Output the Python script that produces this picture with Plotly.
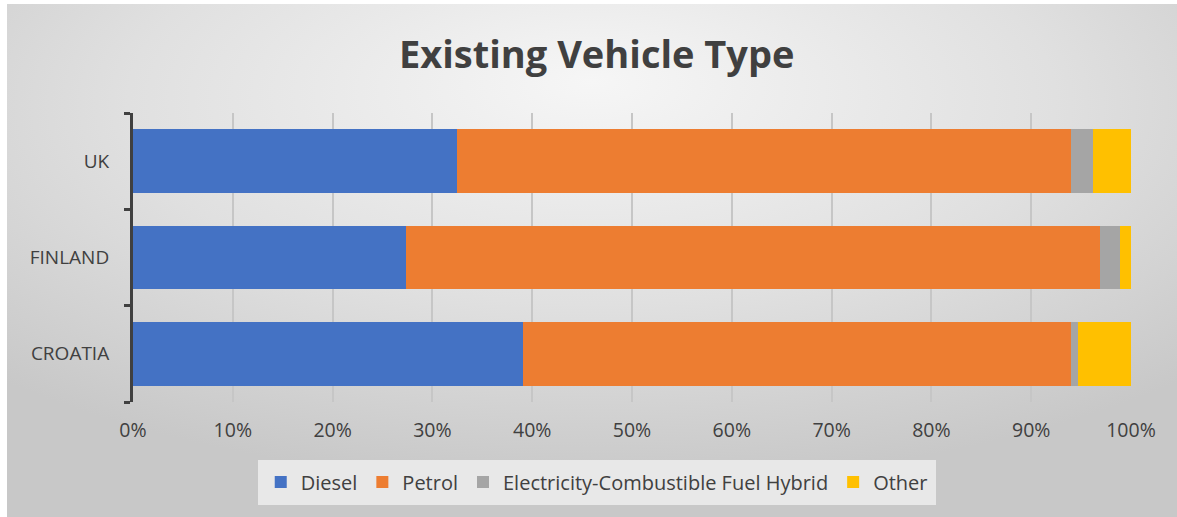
import base64
import plotly.graph_objects as go

# shares of existing vehicles by type, percent
countries = ['CROATIA', 'FINLAND', 'UK']
diesel = [39.1, 27.4, 32.5]
petrol = [54.9, 69.5, 61.5]
hybrid = [0.7, 2.0, 2.2]
other = [5.3, 1.1, 3.8]

series = [
    ('Diesel', diesel, '#4472C4'),
    ('Petrol', petrol, '#ED7D31'),
    ('Electricity-Combustible Fuel Hybrid', hybrid, '#A5A5A5'),
    ('Other', other, '#FFC000'),
]

fig = go.Figure()
for name, vals, col in series:
    fig.add_trace(go.Bar(
        name=name, y=countries, x=vals, orientation='h',
        marker=dict(color=col, line=dict(width=0))))

# gradient background, like the office chart style
svg = '''<svg xmlns="http://www.w3.org/2000/svg" width="1170" height="513" preserveAspectRatio="none">
<defs><radialGradient id="g" cx="50%" cy="22%" r="72%" fx="50%" fy="15%">
<stop offset="0%" stop-color="#f6f6f6"/><stop offset="55%" stop-color="#e0e0e0"/>
<stop offset="100%" stop-color="#c8c8c8"/></radialGradient></defs>
<rect width="1170" height="513" fill="url(#g)"/></svg>'''
bg = 'data:image/svg+xml;base64,' + base64.b64encode(svg.encode()).decode()

fig.update_layout(
    barmode='stack',
    bargap=0.34,
    width=1177, height=517,
    margin=dict(l=133, r=46, t=113, b=115, autoexpand=False),
    paper_bgcolor='white',
    plot_bgcolor='rgba(0,0,0,0)',
    font=dict(family='Open Sans', color='#404040', size=19),
    title=dict(text='<b>Existing Vehicle Type</b>', x=0.507, xanchor='center',
               y=0.895, yanchor='middle', font=dict(size=38, color='#404040')),
    xaxis=dict(range=[0, 100], dtick=10, ticksuffix='%', showgrid=True,
               gridcolor='#c6c6c6', gridwidth=1.5, zeroline=False,
               showline=False, ticks='', tickfont=dict(size=19.5),
               ticklabelstandoff=14),
    yaxis=dict(showline=True, linecolor='#404040', linewidth=3,
               ticks='outside', ticklen=6, tickwidth=3, tickcolor='#404040',
               tickson='boundaries', showgrid=False, tickfont=dict(size=19),
               ticklabelstandoff=17),
    legend=dict(orientation='h', xref='container', yref='container',
                x=0.507, xanchor='center', y=0.111, yanchor='top',
                bgcolor='#e8e8e8', bordercolor='#e8e8e8', borderwidth=3,
                font=dict(size=20), traceorder='normal'),
    images=[dict(source=bg, xref='paper', yref='paper',
                 x=(7 - 133) / 998, y=(402 - 4) / 289,
                 sizex=1170 / 998, sizey=513 / 289,
                 sizing='stretch', layer='below', xanchor='left', yanchor='top')],
)

fig.write_html('out.html', config={'displayModeBar': False},
               post_script="document.body.style.margin='0';")
